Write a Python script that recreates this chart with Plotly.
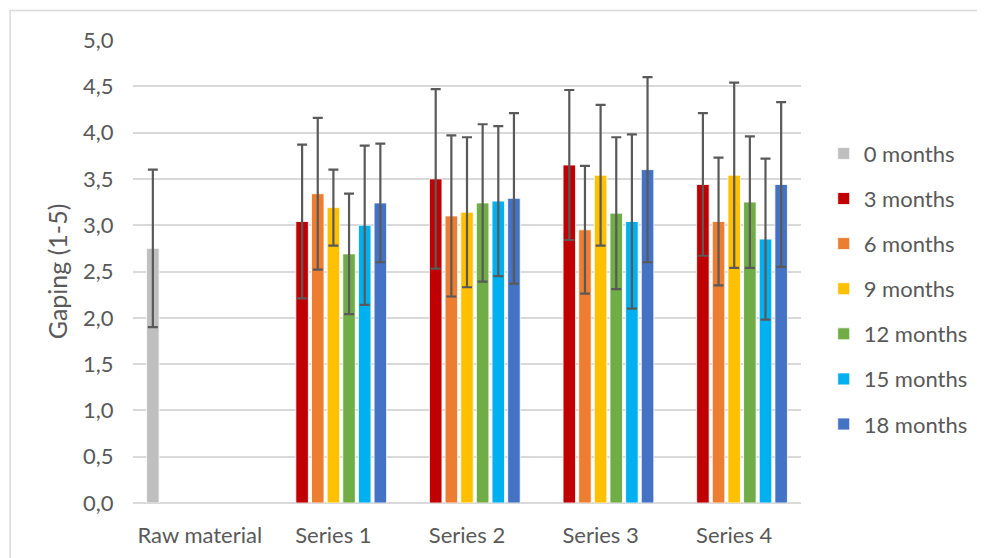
import plotly.graph_objects as go

categories = ["Raw material", "Series 1", "Series 2", "Series 3", "Series 4"]
series_names = ["0 months", "3 months", "6 months", "9 months", "12 months", "15 months", "18 months"]
colors = ["#bfbfbf", "#c00000", "#ed7d31", "#ffc000", "#70ad47", "#00b0f0", "#4472c4"]

# values per series across categories (None = no bar)
v0 = [2.75, None, None, None, None]
v3 = [None, 3.04, 3.50, 3.65, 3.44]
v6 = [None, 3.34, 3.10, 2.95, 3.04]
v9 = [None, 3.19, 3.14, 3.54, 3.54]
v12 = [None, 2.69, 3.24, 3.13, 3.25]
v15 = [None, 3.00, 3.26, 3.04, 2.85]
v18 = [None, 3.24, 3.29, 3.60, 3.44]

e0 = [0.85, None, None, None, None]
e3 = [None, 0.83, 0.97, 0.81, 0.77]
e6 = [None, 0.82, 0.87, 0.69, 0.69]
e9 = [None, 0.41, 0.81, 0.76, 1.00]
e12 = [None, 0.65, 0.85, 0.82, 0.71]
e15 = [None, 0.86, 0.81, 0.94, 0.87]
e18 = [None, 0.64, 0.92, 1.00, 0.89]

values = [v0, v3, v6, v9, v12, v15, v18]
errors = [e0, e3, e6, e9, e12, e15, e18]

font_family = "Lato, 'Open Sans', sans-serif"
text_color = "#595959"

fig = go.Figure()
for name, col, vals, errs in zip(series_names, colors, values, errors):
    fig.add_trace(go.Bar(
        name=name,
        x=categories,
        y=vals,
        marker=dict(color=col, line=dict(color="white", width=0.8)),
        error_y=dict(type="data", array=errs, visible=True,
                     color="#595959", thickness=2.2, width=5),
        legendgroup=name,
    ))

# page has an 8px body margin, so the figure is slightly smaller and shifted
W, H = 977, 550
L, R, T, B = 125, 178, 32, 55
PW, PH = W - L - R, H - T - B
fig.update_layout(
    width=W, height=H,
    margin=dict(l=L, r=R, t=T, b=B),
    paper_bgcolor="white", plot_bgcolor="white",
    barmode="group", bargap=0.18, bargroupgap=0.2,
    separators=",.",
    font=dict(family=font_family, color=text_color, size=22),
    showlegend=True,
    legend=dict(x=1.034, y=0.80, xanchor="left", yanchor="top",
                font=dict(size=22, color=text_color),
                tracegroupgap=13.5, itemwidth=30,
                bgcolor="rgba(0,0,0,0)"),
    xaxis=dict(showgrid=False, showline=False, zeroline=False, automargin=False,
               ticks="outside", ticklen=13, tickcolor="rgba(0,0,0,0)",
               tickfont=dict(size=22, color=text_color)),
    yaxis=dict(range=[0, 5], dtick=0.5, tickformat=".1f", automargin=False,
               showgrid=True, gridcolor="#d9d9d9", gridwidth=1.5,
               zeroline=True, zerolinecolor="#d9d9d9", zerolinewidth=1.5,
               showline=False,
               ticks="outside", ticklen=14, tickcolor="rgba(0,0,0,0)",
               tickfont=dict(size=22, color=text_color),
               title=dict(text="Gaping (1-5)", font=dict(size=25, color=text_color),
                          standoff=8)),
    shapes=[dict(type="rect", xref="paper", yref="paper",
                 x0=(1 - L) / PW, x1=(W + 20 - L) / PW,
                 y0=-(B + 20) / PH, y1=1 + (T - 2.5) / PH,
                 line=dict(color="#d9d9d9", width=1.5), fillcolor="rgba(0,0,0,0)",
                 layer="below")],
)

fig.write_html("out.html")
